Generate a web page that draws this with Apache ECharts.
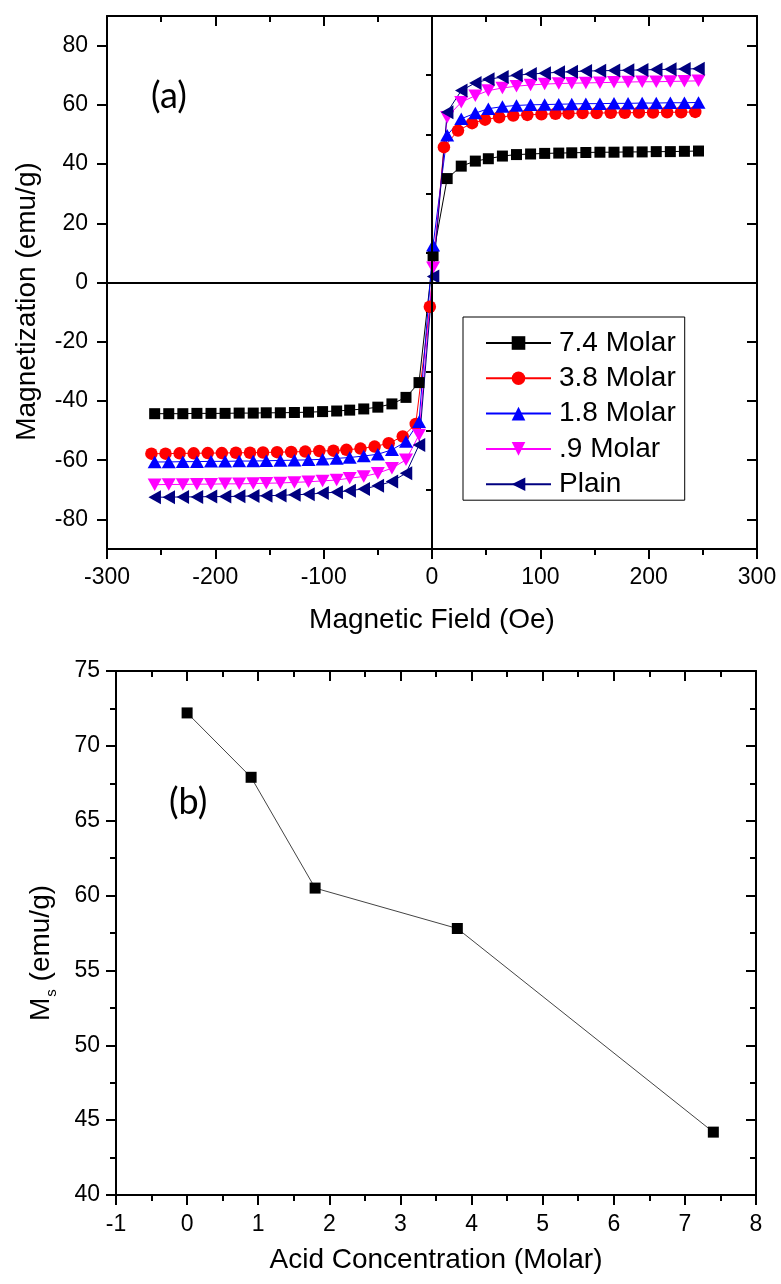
<!DOCTYPE html>
<html>
<head>
<meta charset="utf-8">
<title>Magnetization vs field / Ms vs acid concentration</title>
<script src="https://cdn.jsdelivr.net/npm/echarts@6/dist/echarts.min.js"></script>
<style>
html, body { margin: 0; padding: 0; background: #fff; }
#chart { width: 781px; height: 1284px; }
</style>
</head>
<body>
<div id="chart"></div>
<script>
// (a) M-H curves, field in Oe (red sample sits ~3 Oe to the left)
const field = [-256, -243, -230, -217, -204, -191, -178, -165, -153, -140, -127, -114, -101, -88, -76, -63, -50, -37, -24, -12,
  1, 14, 27, 40, 52, 65, 78, 91, 104, 117, 129, 142, 155, 168, 181, 194, 207, 220, 233, 246]
const fieldRed = [-259, -246, -233, -220, -207, -194, -181, -168, -156, -143, -130, -117, -104, -91, -79, -66, -53, -40, -27, -15,
  -2, 11, 24, 37, 49, 62, 75, 88, 101, 114, 126, 139, 152, 165, 178, 191, 204, 217, 230, 243]

const m74 = [-44.3, -44.3, -44.3, -44.2, -44.2, -44.2, -44.1, -44.1, -44.0, -44.0, -43.9, -43.8, -43.6, -43.4, -43.1, -42.7, -42.1, -41.0, -38.8, -33.8,
  9.0, 35.1, 39.3, 41.0, 41.8, 42.7, 43.2, 43.4, 43.6, 43.7, 43.8, 43.9, 44.0, 44.0, 44.1, 44.1, 44.2, 44.2, 44.3, 44.4]
const m38 = [-57.8, -57.8, -57.7, -57.7, -57.6, -57.6, -57.5, -57.5, -57.4, -57.3, -57.2, -57.1, -56.9, -56.8, -56.5, -56.1, -55.4, -54.3, -52.0, -47.8,
  -8.2, 45.7, 51.3, 53.8, 55.0, 55.8, 56.4, 56.6, 56.8, 57.0, 57.1, 57.2, 57.2, 57.3, 57.3, 57.4, 57.4, 57.5, 57.5, 57.6]
const m18 = [-60.6, -60.6, -60.5, -60.5, -60.4, -60.4, -60.3, -60.3, -60.2, -60.1, -60.0, -59.9, -59.7, -59.4, -59.1, -58.6, -58.0, -56.5, -53.7, -47.0,
  12.6, 49.7, 55.3, 57.2, 58.7, 59.4, 59.8, 60.0, 60.1, 60.2, 60.3, 60.4, 60.4, 60.5, 60.5, 60.6, 60.6, 60.7, 60.7, 60.8]
const m09 = [-68.3, -68.2, -68.2, -68.1, -68.1, -68.0, -68.0, -67.9, -67.8, -67.7, -67.5, -67.3, -67.0, -66.7, -66.1, -65.5, -64.4, -62.7, -59.9, -51.5,
  5.0, 55.8, 60.9, 63.1, 64.8, 65.7, 66.3, 66.7, 67.0, 67.2, 67.3, 67.4, 67.5, 67.6, 67.7, 67.8, 67.8, 67.9, 68.0, 68.1]
const mPlain = [-72.5, -72.5, -72.4, -72.4, -72.3, -72.3, -72.2, -72.1, -72.0, -71.9, -71.7, -71.5, -71.1, -70.8, -70.3, -69.7, -68.6, -67.2, -64.4, -54.9,
  2.0, 57.5, 64.8, 67.4, 68.6, 69.4, 70.0, 70.4, 70.7, 71.0, 71.2, 71.4, 71.5, 71.6, 71.7, 71.8, 71.9, 72.0, 72.1, 72.2]

const seriesNames = ['7.4 Molar', '3.8 Molar', '1.8 Molar', '.9 Molar', 'Plain']
const magTicks = [-80, -60, -40, -20, 0, 20, 40, 60, 80]
const magMinorTicks = [-90, -70, -50, -30, -10, 10, 30, 50, 70, 90]

// (b) saturation magnetisation vs acid concentration
const acid = [0, 0.9, 1.8, 3.8, 7.4]
const ms = [72.2, 67.9, 60.5, 57.8, 44.2]

const font = 'Liberation Sans'
const black = '#000'

function pairs(xs, ys) {
  return xs.map((x, i) => [x, ys[i]])
}

const axisLine = { show: true, onZero: false, lineStyle: { color: black, width: 2 } }
const tickStyle = { color: black, width: 2 }
const labelStyle = { fontSize: 23, color: black, fontFamily: font }
const nameStyle = { fontSize: 28, color: black, fontFamily: font }

function mirrorX(grid, min, max, interval) {
  return {
    gridIndex: grid, type: 'value', position: 'top', min: min, max: max, interval: interval,
    axisLine: axisLine,
    axisTick: { show: true, inside: true, length: 10, lineStyle: tickStyle },
    minorTick: { show: true, splitNumber: 2, length: 6, lineStyle: tickStyle },
    axisLabel: { show: false },
    splitLine: { show: false }
  }
}

function lineSeries(name, xs, ys, symbol, size, rotate, color) {
  return {
    name: name,
    type: 'line',
    xAxisIndex: 0,
    yAxisIndex: 0,
    data: pairs(xs, ys),
    symbol: symbol,
    symbolSize: size,
    symbolRotate: rotate,
    showSymbol: true,
    itemStyle: { color: color },
    lineStyle: { color: color, width: 1 },
    emphasis: { disabled: true }
  }
}

const chart = echarts.init(document.getElementById('chart'), null, { renderer: 'canvas' })

const series = [
  lineSeries(seriesNames[0], field, m74, 'rect', 11, 0, '#000000'),
  lineSeries(seriesNames[1], fieldRed, m38, 'circle', 12.5, 0, '#ff0000'),
  lineSeries(seriesNames[2], field, m18, 'triangle', [14, 12.5], 0, '#0000ff'),
  lineSeries(seriesNames[3], field, m09, 'triangle', [14, 12.5], 180, '#ff00ff'),
  lineSeries(seriesNames[4], field, mPlain, 'triangle', [14, 12.5], 90, '#000080')
]
// zero lines through the origin
series[0].markLine = {
  silent: true,
  symbol: 'none',
  label: { show: false },
  lineStyle: { color: black, width: 2, type: 'solid' },
  data: [{ xAxis: 0 }, { yAxis: 0 }]
}
series.push({
  name: 'Ms',
  type: 'line',
  xAxisIndex: 2,
  yAxisIndex: 4,
  data: pairs(acid, ms),
  symbol: 'rect',
  symbolSize: 11,
  itemStyle: { color: black },
  lineStyle: { color: '#444', width: 1 },
  emphasis: { disabled: true }
})

chart.setOption({
  animation: false,
  backgroundColor: '#fff',
  title: [
    { text: '(a)', left: 151, top: 78, padding: 0, textStyle: { fontFamily: 'Lato', fontSize: 36, fontWeight: 'normal', color: black } },
    { text: '(b)', left: 169, top: 784, padding: 0, textStyle: { fontFamily: 'Lato', fontSize: 36, fontWeight: 'normal', color: black } }
  ],
  legend: {
    data: seriesNames,
    orient: 'vertical',
    left: 463,
    top: 317,
    padding: [11, 9, 1, 22],
    itemWidth: 65,
    itemHeight: 17,
    itemGap: 5.3,
    borderColor: black,
    borderWidth: 1,
    textStyle: { fontSize: 28, lineHeight: 30, color: black, fontFamily: font, padding: [0, 0, 0, 3] }
  },
  grid: [
    { left: 107, top: 16, width: 650, height: 533 },
    { left: 116, top: 671, width: 640, height: 524 }
  ],
  xAxis: [
    {
      gridIndex: 0, type: 'value', position: 'bottom', min: -300, max: 300, interval: 100,
      name: 'Magnetic Field (Oe)', nameLocation: 'middle', nameGap: 57, nameTextStyle: nameStyle,
      axisLine: axisLine,
      axisTick: { show: true, inside: false, length: 10, lineStyle: tickStyle },
      minorTick: { show: true, splitNumber: 2, length: 6, lineStyle: tickStyle },
      axisLabel: Object.assign({ margin: 17 }, labelStyle),
      splitLine: { show: false }
    },
    mirrorX(0, -300, 300, 100),
    {
      gridIndex: 1, type: 'value', position: 'bottom', min: -1, max: 8, interval: 1,
      name: 'Acid Concentration (Molar)', nameLocation: 'middle', nameGap: 51, nameTextStyle: nameStyle,
      axisLine: axisLine,
      axisTick: { show: true, inside: false, length: 10, lineStyle: tickStyle },
      minorTick: { show: true, splitNumber: 2, length: 6, lineStyle: tickStyle },
      axisLabel: Object.assign({ margin: 18 }, labelStyle),
      splitLine: { show: false }
    },
    mirrorX(1, -1, 8, 1)
  ],
  yAxis: [
    {
      gridIndex: 0, type: 'value', position: 'left', min: -90, max: 90,
      name: 'Magnetization (emu/g)', nameLocation: 'middle', nameGap: 66,
      nameTextStyle: Object.assign({ padding: [0, 38, 0, 0] }, nameStyle),
      axisLine: axisLine,
      axisTick: { show: true, inside: false, length: 10, lineStyle: tickStyle, customValues: magTicks },
      axisLabel: Object.assign({ margin: 19, customValues: magTicks }, labelStyle),
      splitLine: { show: false }
    },
    {
      gridIndex: 0, type: 'value', position: 'left', min: -90, max: 90,
      axisLine: { show: false },
      axisTick: { show: true, inside: false, length: 6, lineStyle: tickStyle, customValues: magMinorTicks },
      axisLabel: { show: false },
      splitLine: { show: false }
    },
    {
      gridIndex: 0, type: 'value', position: 'right', min: -90, max: 90,
      axisLine: axisLine,
      axisTick: { show: true, inside: true, length: 10, lineStyle: tickStyle, customValues: magTicks },
      axisLabel: { show: false, customValues: magTicks },
      splitLine: { show: false }
    },
    {
      gridIndex: 0, type: 'value', position: 'right', min: -90, max: 90,
      axisLine: { show: false },
      axisTick: { show: true, inside: true, length: 6, lineStyle: tickStyle, customValues: magMinorTicks },
      axisLabel: { show: false },
      splitLine: { show: false }
    },
    {
      gridIndex: 1, type: 'value', position: 'left', min: 40, max: 75, interval: 5,
      name: '{m|M}{s|s}{m| (emu/g)}', nameLocation: 'middle', nameGap: 57,
      nameTextStyle: {
        color: black,
        padding: [0, 40, 0, 0],
        rich: {
          m: { fontSize: 28, fontFamily: font, color: black },
          s: { fontSize: 15, fontFamily: font, color: black, padding: [20, 0, 0, 1] }
        }
      },
      axisLine: axisLine,
      axisTick: { show: true, inside: false, length: 10, lineStyle: tickStyle },
      minorTick: { show: true, splitNumber: 2, length: 6, lineStyle: tickStyle },
      axisLabel: Object.assign({ margin: 16 }, labelStyle),
      splitLine: { show: false }
    },
    {
      gridIndex: 1, type: 'value', position: 'right', min: 40, max: 75, interval: 5,
      axisLine: axisLine,
      axisTick: { show: true, inside: true, length: 10, lineStyle: tickStyle },
      minorTick: { show: true, splitNumber: 2, length: 6, lineStyle: tickStyle },
      axisLabel: { show: false },
      splitLine: { show: false }
    }
  ],
  series: series
})
</script>
</body>
</html>
